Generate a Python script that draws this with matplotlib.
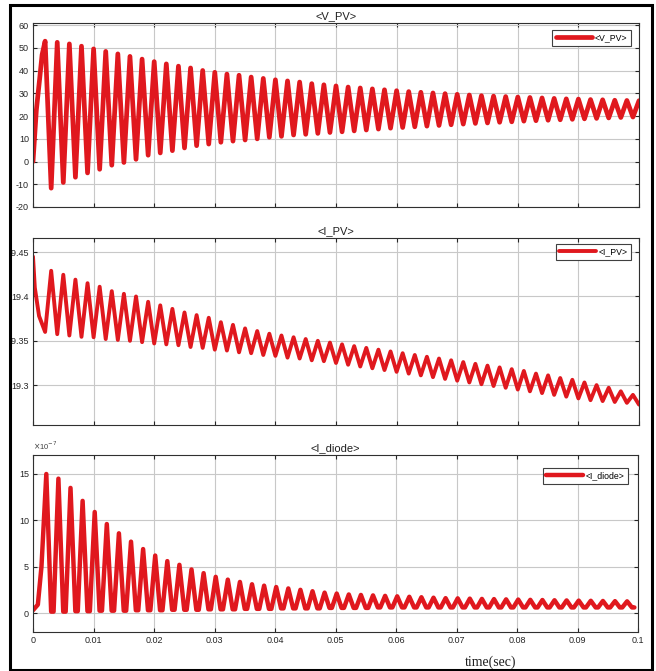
import numpy as np
import matplotlib.pyplot as plt
from matplotlib.patches import Rectangle

plt.rcParams['font.family'] = ['Liberation Sans', 'DejaVu Sans']
plt.rcParams['axes.unicode_minus'] = False

period = 0.002

# <V_PV> : start-up, then peaks at 0.002*k and troughs in between
v_start_t = [0.0, 0.00055, 0.0011, 0.0015]
v_start = [0.0, 22.6, 36.5, 47.0]
v_peaks = [53.0, 52.5, 51.8, 50.8, 49.6, 48.5, 47.4, 46.3, 45.1, 44.0,
           43.0, 42.0, 41.2, 40.1, 39.3, 38.5, 38.0, 37.2, 36.6, 36.0,
           35.5, 35.0, 34.3, 33.8, 33.3, 32.8, 32.4, 32.0, 31.6, 31.2,
           30.8, 30.5, 30.2, 29.9, 29.6, 29.3, 29.0, 28.8, 28.6, 28.4,
           28.2, 28.0, 27.8, 27.6, 27.5, 27.3, 27.2, 27.0, 26.9, 26.8]
v_troughs = [-11.7, -9.2, -6.9, -5.0, -3.4, -1.6, -0.4, 1.0, 2.8, 3.8,
             4.8, 6.0, 7.0, 7.7, 8.5, 9.0, 9.5, 10.0, 10.7, 11.1,
             11.7, 12.0, 12.4, 12.8, 13.1, 13.5, 13.9, 14.3, 14.7, 15.0,
             15.3, 15.6, 15.9, 16.2, 16.5, 16.8, 17.0, 17.3, 17.5, 17.8,
             18.0, 18.2, 18.4, 18.6, 18.8, 19.0, 19.2, 19.4, 19.6]

# <I_PV> : troughs line up with V_PV peaks
i_start_t = [0.0, 0.0003, 0.001]
i_start = [19.445, 19.41, 19.378]
i_troughs = [19.360, 19.3575, 19.356, 19.3545, 19.354, 19.352, 19.351, 19.350, 19.3485, 19.347,
             19.346, 19.345, 19.343, 19.342, 19.340, 19.339, 19.337, 19.336, 19.334, 19.333,
             19.331, 19.330, 19.328, 19.327, 19.325, 19.323, 19.321, 19.319, 19.317, 19.315,
             19.313, 19.311, 19.309, 19.307, 19.305, 19.303, 19.301, 19.299, 19.297, 19.295,
             19.293, 19.291, 19.289, 19.287, 19.285, 19.283, 19.282, 19.281, 19.280, 19.278]
i_peaks = [19.429, 19.4245, 19.419, 19.415, 19.411, 19.406, 19.403, 19.400, 19.394, 19.390,
           19.386, 19.382, 19.379, 19.376, 19.371, 19.368, 19.364, 19.361, 19.358, 19.356,
           19.354, 19.352, 19.350, 19.348, 19.346, 19.344, 19.342, 19.340, 19.338, 19.336,
           19.334, 19.332, 19.330, 19.328, 19.326, 19.324, 19.322, 19.320, 19.318, 19.316,
           19.313, 19.311, 19.308, 19.306, 19.303, 19.300, 19.297, 19.293, 19.289]

# <I_diode> (x1e-7) : pulses with short flat valleys
d_start_t = [0.0, 0.0008, 0.0014]
d_start = [0.3, 0.9, 5.0]
d_peaks = [15.0, 14.5, 13.5, 12.1, 10.9, 9.6, 8.6, 7.7, 6.9, 6.2,
           5.6, 5.2, 4.7, 4.3, 3.9, 3.6, 3.35, 3.1, 2.95, 2.8,
           2.65, 2.5, 2.35, 2.2, 2.1, 2.0, 1.95, 1.9, 1.85, 1.8,
           1.75, 1.7, 1.65, 1.6, 1.58, 1.55, 1.52, 1.5, 1.47, 1.45,
           1.42, 1.4, 1.38, 1.36, 1.34, 1.32, 1.3, 1.28, 1.26]
d_lows = [0.15, 0.15, 0.2, 0.2, 0.25, 0.25, 0.25, 0.3, 0.3, 0.3,
          0.35, 0.35, 0.35, 0.4, 0.4, 0.4, 0.45, 0.45, 0.45, 0.5,
          0.5, 0.5, 0.5, 0.55, 0.55, 0.55, 0.55, 0.6, 0.6, 0.6,
          0.6, 0.6, 0.6, 0.6, 0.6, 0.6, 0.6, 0.6, 0.6, 0.6,
          0.6, 0.6, 0.6, 0.6, 0.6, 0.6, 0.6, 0.6, 0.6]

xticks = [0, 0.01, 0.02, 0.03, 0.04, 0.05, 0.06, 0.07, 0.08, 0.09, 0.1]
xtick_labels = ['0', '0.01', '0.02', '0.03', '0.04', '0.05', '0.06', '0.07', '0.08', '0.09', '0.1']


def build_series(start_t, start_v, first_t, a_vals, second_t, b_vals):
    t = list(start_t)
    v = list(start_v)
    pts = [(first_t + period * k, a) for k, a in enumerate(a_vals)]
    pts += [(second_t + period * k, b) for k, b in enumerate(b_vals)]
    pts.sort()
    t += [p[0] for p in pts]
    v += [p[1] for p in pts]
    return np.array(t), np.array(v)


v_t, v_v = build_series(v_start_t, v_start, 0.002, v_peaks, 0.003, v_troughs)
i_t, i_v = build_series(i_start_t, i_start, 0.002, i_troughs, 0.003, i_peaks)

d_t = list(d_start_t)
d_v = list(d_start)
for k, pk in enumerate(d_peaks):
    tp = 0.0022 + period * k
    d_t += [tp, tp + 0.0008, tp + 0.0012]
    d_v += [pk, d_lows[k], d_lows[k]]

W, H = 656, 671
fig = plt.figure(figsize=(W / 100, H / 100), dpi=100)


def px_axes(x0, y0, x1, y1):
    return fig.add_axes([x0 / W, 1 - y1 / H, (x1 - x0) / W, (y1 - y0) / H])


def style(ax, title, show_x):
    ax.set_xlim(0, 0.1)
    ax.set_xticks(xticks)
    if show_x:
        ax.set_xticklabels(xtick_labels)
    else:
        ax.set_xticklabels([])
    ax.grid(True, color='#c8c8c8', linewidth=0.8)
    ax.set_axisbelow(True)
    ax.tick_params(direction='in', top=True, right=True, length=3, width=0.8,
                   labelsize=6.5, colors='#262626', pad=3)
    for s in ax.spines.values():
        s.set_color('#303030')
        s.set_linewidth(0.8)
    ax.set_title(title, fontsize=8, pad=2.5, color='#202020')


red = '#e0181e'
line_kw = dict(color=red, solid_joinstyle='round', solid_capstyle='round')

ax1 = px_axes(33, 23, 639, 207)
ax1.plot(v_t, v_v, lw=3.4, label='<V_PV>', **line_kw)
ax1.set_ylim(-20, 61)
ax1.set_yticks(range(-20, 61, 10))
style(ax1, '<V_PV>', False)

ax2 = px_axes(33, 238, 639, 425)
ax2.plot(i_t, i_v, lw=2.8, label='<I_PV>', **line_kw)
ax2.set_ylim(19.255, 19.466)
ax2.set_yticks([19.3, 19.35, 19.4, 19.45])
ax2.set_yticklabels(['19.3', '19.35', '19.4', '19.45'])
style(ax2, '<I_PV>', False)

ax3 = px_axes(33, 455, 638, 632)
ax3.plot(d_t, d_v, lw=3.2, label='<I_diode>', **line_kw)
ax3.set_ylim(-2.05, 17.05)
ax3.set_yticks([0, 5, 10, 15])
style(ax3, '<I_diode>', True)
ax3.text(0.0, 1.015, r'$\times$10$^{-7}$', transform=ax3.transAxes, fontsize=5.5,
         color='#404040', va='bottom', ha='left')

for ax, (rx, ry) in zip([ax1, ax2, ax3], [(631, 30), (631, 244), (628, 468)]):
    leg = ax.legend(loc='upper right', bbox_to_anchor=(rx / W, 1 - ry / H),
                    bbox_transform=fig.transFigure, fontsize=6.3, handlelength=4.2,
                    fancybox=False, framealpha=1, borderpad=0.4, borderaxespad=0,
                    handletextpad=0.3)
    leg.get_frame().set_edgecolor('#404040')
    leg.get_frame().set_linewidth(0.8)

fig.text(491 / W, 1 - 662 / H, 'time(sec)', family='Liberation Serif', fontsize=10,
         ha='center', va='center', color='#202020')

# outer frame of the scope window
fig.patches.append(Rectangle((0, 0), 10 / W, 1, transform=fig.transFigure,
                             facecolor='white', edgecolor='none', zorder=10))
fig.patches.append(Rectangle((10 / W, 1 - 670 / H), 642 / W, 665 / H, transform=fig.transFigure,
                             facecolor='none', edgecolor='black', linewidth=2.2, zorder=11))

fig.savefig('out.png', dpi=100)
